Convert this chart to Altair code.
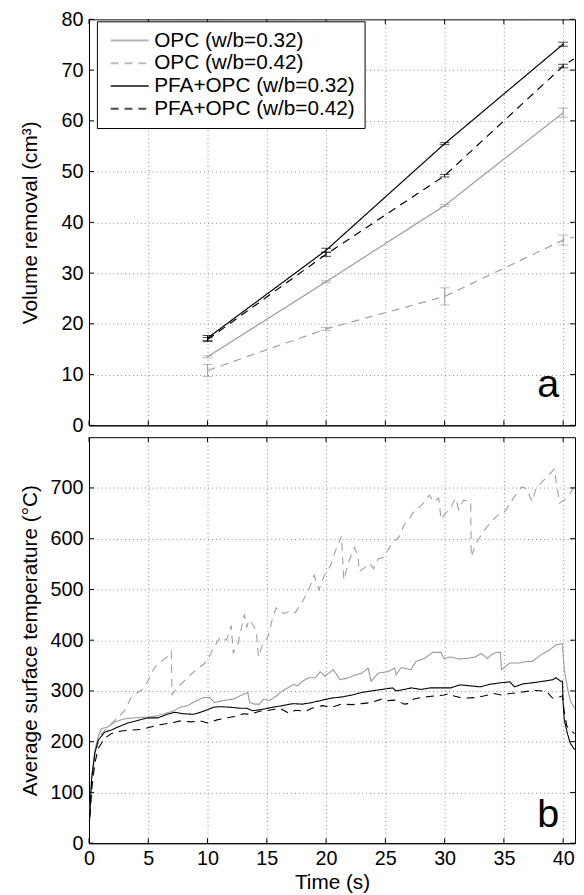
import altair as alt
import pandas as pd

FONT = "Liberation Sans"

series_names = ["OPC (w/b=0.32)", "OPC (w/b=0.42)", "PFA+OPC (w/b=0.32)", "PFA+OPC (w/b=0.42)"]
series_colors = ["#9a9a9a", "#a0a0a0", "#000000", "#000000"]
series_dashes = [[1, 0], [8, 6], [1, 0], [8, 6]]

# ---- panel a: volume removal (cm3) at 10, 20, 30, 40 s ----
vol_time = [10, 20, 30, 40]
vol_opc032 = [13.5, 28.3, 43.3, 61.6]
err_opc032 = [0.2, 0.2, 0.2, 0.9]
vol_opc042 = [10.8, 19.0, 25.4, 36.5]
err_opc042 = [1.2, 0.3, 1.7, 1.0]
vol_pfa032 = [17.2, 34.5, 55.5, 75.1]
err_pfa032 = [0.5, 0.4, 0.2, 0.4]
vol_pfa042 = [16.9, 33.7, 49.2, 70.8]
err_pfa042 = [0.4, 0.4, 0.25, 0.35]
# dashed lines continue to the right border
tail_time = [40.9]
tail_opc042 = [37.1]
tail_pfa042 = [72.2]

# ---- panel b: average surface temperature (C) ----
t_opc032 = [0, 0.22, 0.5, 0.78, 1.06, 1.6, 2.17, 3.0, 3.83, 4.67, 5.5, 6.33, 7.17, 7.7, 8.3, 9.1, 9.67,
            10.2, 10.6, 11.3, 12.2, 12.7, 13.0, 13.4, 13.55, 13.97, 14.4, 14.7, 15.2, 15.8, 16.3, 16.9,
            17.3, 17.6, 18.0, 18.55, 19.1, 19.5, 19.9, 20.6, 21.2, 21.9, 22.4, 23.0, 23.55, 23.8, 24.4,
            25.2, 25.8, 25.9, 26.33, 27.17, 27.58, 28.3, 29.0, 29.7, 29.94, 30.5, 31.2, 31.9, 32.6, 33.1,
            33.6, 34.1, 34.7, 34.8, 35.5, 36.3, 36.9, 37.4, 38.1, 38.8, 39.4, 39.94, 40.08, 40.36, 40.6,
            40.97]
T_opc032 = [25, 133, 184, 210, 226, 229, 239, 245, 247, 248, 250, 255, 261, 268, 271, 281, 287,
            287, 277, 281, 284, 290, 293, 297, 277, 274, 274, 284, 281, 290, 300, 308,
            313, 310, 319, 326, 326, 338, 329, 342, 322, 326, 331, 335, 345, 319, 335,
            338, 345, 332, 346, 342, 358, 364, 376, 376, 364, 367, 363, 364, 367, 374,
            364, 374, 377, 342, 355, 355, 358, 358, 371, 380, 391, 393, 345, 306, 281,
            265]

t_opc042 = [0, 0.5, 1.06, 1.9, 2.44, 3.0, 3.56, 4.1, 4.5, 4.95, 5.5, 6.06, 6.6, 6.94, 7.0, 7.44, 8.0,
            8.56, 9.25, 9.94, 10.5, 11.06, 11.6, 12.0, 12.17, 12.6, 13.1, 13.3, 13.5, 13.7, 14.1, 14.3,
            14.7, 15.1, 15.5, 15.8, 16.2, 16.6, 17.0, 17.4, 17.9, 18.1, 18.6, 19.0, 19.4, 19.8, 20.4,
            20.8, 21.3, 21.5, 21.9, 22.4, 22.7, 22.8, 23.3, 23.7, 24.0, 24.4, 24.9, 25.5, 26.2, 26.6,
            26.9, 27.4, 28.1, 28.7, 29.1, 29.5, 29.7, 30.1, 30.5, 30.9, 31.2, 31.6, 32.2, 32.25, 32.6,
            33.3, 34.0, 34.5, 35.1, 35.8, 36.5, 36.9, 37.2, 37.4, 37.7, 38.6, 39.25, 39.5, 39.7, 40.1,
            40.5, 40.9]
T_opc042 = [25, 178, 216, 236, 248, 261, 287, 297, 303, 319, 345, 358, 367, 378, 293, 306, 319,
            332, 345, 358, 384, 406, 400, 429, 374, 396, 451, 425, 440, 435, 419, 367,
            396, 406, 445, 464, 454, 453, 459, 454, 473, 480, 503, 528, 499, 525, 548,
            577, 605, 519, 554, 583, 564, 535, 544, 551, 541, 560, 564, 589, 605, 628,
            634, 654, 667, 686, 673, 680, 638, 651, 660, 680, 657, 676, 673, 564, 589,
            615, 635, 647, 654, 680, 702, 699, 683, 673, 699, 721, 737, 699, 670, 676,
            686, 702]

t_pfa032 = [0, 0.22, 0.5, 0.78, 1.33, 1.9, 2.44, 3.3, 4.1, 4.95, 5.8, 6.6, 7.2, 8.0, 8.8, 9.4, 10.0,
            10.5, 11.06, 11.9, 12.7, 13.3, 13.8, 14.7, 15.5, 16.3, 17.2, 18.0, 18.8, 19.7, 20.5, 21.3,
            22.2, 23.0, 23.8, 24.7, 25.6, 25.9, 26.6, 27.2, 28.0, 28.8, 29.7, 30.5, 31.3, 32.2, 33.0,
            33.8, 34.7, 35.5, 35.9, 36.6, 37.4, 38.3, 39.1, 39.4, 39.8, 39.94, 40.0, 40.1, 40.36, 40.6,
            40.97]
T_pfa032 = [25, 126, 178, 203, 219, 223, 229, 237, 242, 247, 247, 254, 258, 255, 254, 258, 263,
            268, 269, 268, 266, 266, 261, 264, 268, 271, 275, 274, 277, 282, 286, 288,
            292, 297, 300, 303, 306, 300, 303, 306, 303, 306, 306, 306, 312, 310, 308,
            313, 316, 318, 308, 314, 316, 319, 322, 326, 319, 319, 274, 242, 216, 197,
            184]

t_pfa042 = [0, 0.22, 0.5, 0.78, 1.33, 1.9, 2.7, 3.56, 4.4, 5.2, 6.1, 6.9, 7.7, 8.56, 9.4, 10.0, 10.8,
            11.6, 12.4, 13.0, 13.6, 14.4, 15.2, 16.05, 16.9, 17.4, 18.3, 18.8, 19.7, 20.5, 21.3, 22.2,
            23.0, 23.8, 24.7, 25.2, 25.9, 26.6, 26.9, 27.4, 28.3, 29.1, 29.94, 30.4, 30.8, 31.3, 31.9,
            32.6, 33.3, 34.1, 34.8, 35.5, 36.3, 37.2, 37.7, 38.6, 39.1, 39.5, 39.94, 40.08, 40.3, 40.5,
            40.97]
T_pfa042 = [25, 107, 158, 187, 207, 216, 221, 223, 224, 229, 234, 237, 241, 239, 241, 237, 243,
            247, 250, 255, 254, 260, 262, 266, 256, 262, 260, 266, 271, 268, 274, 273,
            275, 277, 284, 281, 282, 274, 275, 284, 288, 290, 292, 295, 290, 287, 286,
            287, 290, 295, 292, 295, 297, 300, 301, 299, 286, 287, 290, 261, 232, 224,
            216]

xtick_vals = [0, 5, 10, 15, 20, 25, 30, 35, 40]
ytick_vals_a = [0, 10, 20, 30, 40, 50, 60, 70, 80]
ytick_vals_b = [0, 100, 200, 300, 400, 500, 600, 700]

W, H = 492, 411
XMAX = 41

# ---- build tables ----
vol_rows, err_rows = [], []
for name, vals, errs in zip(series_names,
                            [vol_opc032, vol_opc042, vol_pfa032, vol_pfa042],
                            [err_opc032, err_opc042, err_pfa032, err_pfa042]):
    for t, v, e in zip(vol_time, vals, errs):
        vol_rows.append({"t": t, "v": v, "s": name})
        err_rows.append({"t": t, "lo": v - e, "hi": v + e, "s": name})
for name, vals in [(series_names[1], tail_opc042), (series_names[3], tail_pfa042)]:
    for t, v in zip(tail_time, vals):
        vol_rows.append({"t": t, "v": v, "s": name})
vol_df = pd.DataFrame(vol_rows)
err_df = pd.DataFrame(err_rows)

temp_rows = []
for name, ts, Ts in zip(series_names,
                        [t_opc032, t_opc042, t_pfa032, t_pfa042],
                        [T_opc032, T_opc042, T_pfa032, T_pfa042]):
    for t, v in zip(ts, Ts):
        temp_rows.append({"t": t, "v": v, "s": name})
temp_df = pd.DataFrame(temp_rows)

color_scale = alt.Scale(domain=series_names, range=series_colors)
dash_scale = alt.Scale(domain=series_names, range=series_dashes)

xscale = alt.Scale(domain=[0, XMAX], nice=False, zero=False)


def xaxis(labels):
    if labels:
        return alt.Axis(values=xtick_vals, grid=True, labels=True, title="Time (s)",
                        labelFlush=False, labelPadding=6, titlePadding=3)
    return alt.Axis(values=xtick_vals, grid=True, labels=False, title=None)


def yaxis(vals, title):
    return alt.Axis(values=vals, grid=True, title=title, titleX=-49,
                    titleY=H / 2, titleAngle=270, titleBaseline="bottom", titleAlign="center")


def inner_ticks(yvals, yscale):
    xt = pd.DataFrame({"t": xtick_vals})
    yt = pd.DataFrame({"v": yvals})
    xs = alt.X("t:Q", scale=xscale)
    ys = alt.Y("v:Q", scale=yscale)
    base_x = alt.Chart(xt).mark_rule(color="black", strokeWidth=1)
    base_y = alt.Chart(yt).mark_rule(color="black", strokeWidth=1)
    return [
        base_x.encode(x=xs, y=alt.value(0), y2=alt.value(5)),
        base_x.encode(x=xs, y=alt.value(H - 5), y2=alt.value(H)),
        base_y.encode(y=ys, x=alt.value(0), x2=alt.value(5)),
        base_y.encode(y=ys, x=alt.value(W - 5), x2=alt.value(W)),
    ]


# ---- panel a ----
ya = alt.Scale(domain=[0, 80], nice=False)
legend = alt.Legend(title=None, orient="none", legendX=8, legendY=2, strokeColor="black",
                    fillColor="white", padding=9, labelFontSize=21, labelFont=FONT,
                    labelColor="black", symbolType="M-1,0H6", symbolSize=121,
                    symbolStrokeWidth=2, rowPadding=1, labelOffset=28, labelLimit=400)

lines_a = alt.Chart(vol_df).mark_line(strokeWidth=1.2, clip=True).encode(
    x=alt.X("t:Q", scale=xscale, axis=xaxis(False)),
    y=alt.Y("v:Q", scale=ya, axis=yaxis(ytick_vals_a, "Volume removal (cm³)")),
    color=alt.Color("s:N", scale=color_scale, legend=legend, sort=series_names),
    strokeDash=alt.StrokeDash("s:N", scale=dash_scale, legend=legend, sort=series_names),
    detail="s:N",
)
bars_a = alt.Chart(err_df).mark_rule(strokeWidth=1).encode(
    x=alt.X("t:Q", scale=xscale),
    y=alt.Y("lo:Q", scale=ya),
    y2="hi:Q",
    color=alt.Color("s:N", scale=color_scale, legend=legend, sort=series_names),
)
caps_lo = alt.Chart(err_df).mark_tick(orient="horizontal", size=10, thickness=1).encode(
    x=alt.X("t:Q", scale=xscale),
    y=alt.Y("lo:Q", scale=ya),
    color=alt.Color("s:N", scale=color_scale, legend=legend, sort=series_names),
)
caps_hi = alt.Chart(err_df).mark_tick(orient="horizontal", size=10, thickness=1).encode(
    x=alt.X("t:Q", scale=xscale),
    y=alt.Y("hi:Q", scale=ya),
    color=alt.Color("s:N", scale=color_scale, legend=legend, sort=series_names),
)
label_a = alt.Chart(pd.DataFrame({"lab": ["a"]})).mark_text(
    align="right", baseline="alphabetic", fontSize=40, font=FONT, color="black"
).encode(text="lab:N", x=alt.value(476), y=alt.value(382))

panel_a = alt.layer(lines_a, bars_a, caps_lo, caps_hi, *inner_ticks(ytick_vals_a, ya),
                    label_a).properties(width=W, height=H)

# ---- panel b ----
yb = alt.Scale(domain=[0, 800], nice=False)
lines_b = alt.Chart(temp_df).mark_line(strokeWidth=1.1, clip=True).encode(
    x=alt.X("t:Q", scale=xscale, axis=xaxis(True)),
    y=alt.Y("v:Q", scale=yb, axis=yaxis(ytick_vals_b, "Average surface temperature (°C)")),
    color=alt.Color("s:N", scale=color_scale, legend=None),
    strokeDash=alt.StrokeDash("s:N", scale=dash_scale, legend=None),
    detail="s:N",
)
label_b = alt.Chart(pd.DataFrame({"lab": ["b"]})).mark_text(
    align="right", baseline="alphabetic", fontSize=40, font=FONT, color="black"
).encode(text="lab:N", x=alt.value(476), y=alt.value(395))

panel_b = alt.layer(lines_b, *inner_ticks(ytick_vals_b, yb), label_b).properties(
    width=W, height=H)

chart = alt.vconcat(panel_a, panel_b, spacing=0).resolve_scale(
    color="independent", strokeDash="independent"
).resolve_legend(color="independent", strokeDash="independent").properties(
    padding={"left": 11, "top": -5, "right": 0, "bottom": 0}
).configure_view(stroke="black", strokeWidth=1).configure_axis(
    gridColor="#8a8a8a", gridDash=[1, 3], gridWidth=1, gridOpacity=1,
    domainColor="black", domainWidth=1,
    ticks=False, tickSize=0,
    labelFont=FONT, labelFontSize=20, labelColor="black",
    titleFont=FONT, titleFontSize=21, titleFontWeight="normal", titleColor="black",
).configure_axisY(labelPadding=6, titlePadding=10)

chart.save("out.html", embed_options={"renderer": "svg", "actions": False})
